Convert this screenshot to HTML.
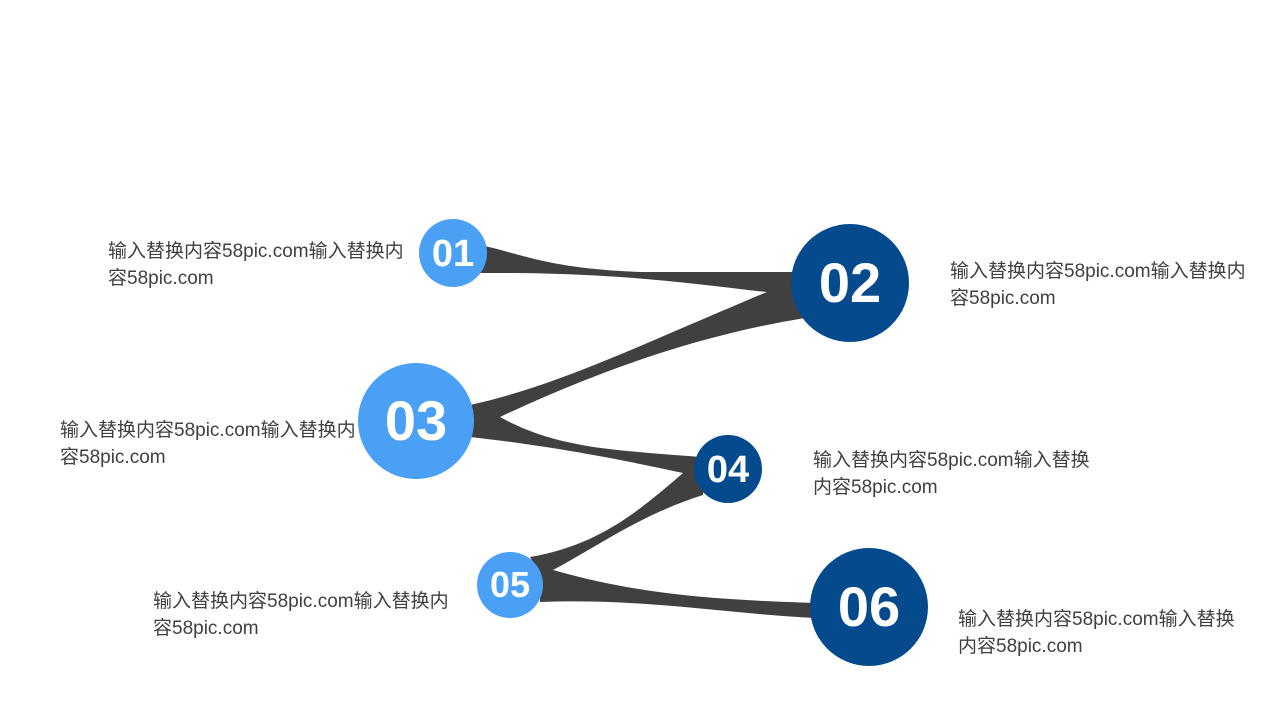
<!DOCTYPE html>
<html><head><meta charset="utf-8"><style>
body{margin:0;width:1280px;height:720px;background:#fff;overflow:hidden;position:relative;font-family:"Liberation Sans","Noto Sans CJK SC",sans-serif}
.t{position:absolute;font-size:19px;line-height:27px;color:#404040;white-space:nowrap}
</style></head><body>
<svg width="1280" height="720" style="position:absolute;left:0;top:0">
<g fill="#404040">
<path d="M470,243 C520,252 540,268 640,272 L800,272 L800,292 L767,292 C700,285 620,272 487,273 L470,273 Z"/>
<path d="M767,292 L800,290 L805,318 C700,335 600,370 500,417 L470,430 L470,405 C560,385 640,345 767,292 Z"/>
<path d="M500,417 C560,450 620,450 700,457 L700,478 L683,473 C600,455 540,445 470,437 L470,415 Z"/>
<path d="M683,473 L705,470 L703,495 C640,515 600,545 553,570 L540,575 L530,557 C600,545 640,510 683,473 Z"/>
<path d="M553,570 C640,595 720,600 815,603 L815,618 C720,613 640,598 540,602 L540,572 Z"/>
</g>
<g font-family="Liberation Sans Narrow,Liberation Sans,sans-serif" font-weight="bold" fill="#fff" text-anchor="middle">
<circle cx="453" cy="253" r="34" fill="#4aa0f5"/><text x="453" y="266" font-size="38">01</text>
<circle cx="850" cy="283" r="59" fill="#064a8e"/><text x="850" y="302" font-size="56">02</text>
<circle cx="416" cy="421" r="58" fill="#4aa0f5"/><text x="416" y="440" font-size="56">03</text>
<circle cx="728" cy="469" r="34" fill="#064a8e"/><text x="728" y="482" font-size="38">04</text>
<circle cx="510" cy="585" r="33" fill="#4aa0f5"/><text x="510" y="597" font-size="36">05</text>
<circle cx="869" cy="607" r="59" fill="#064a8e"/><text x="869" y="626" font-size="56">06</text>
</g>
</svg>
<div class="t" style="left:108px;top:238px">输入替换内容58pic.com输入替换内<br>容58pic.com</div>
<div class="t" style="left:950px;top:258px">输入替换内容58pic.com输入替换内<br>容58pic.com</div>
<div class="t" style="left:60px;top:417px">输入替换内容58pic.com输入替换内<br>容58pic.com</div>
<div class="t" style="left:813px;top:447px">输入替换内容58pic.com输入替换<br>内容58pic.com</div>
<div class="t" style="left:153px;top:588px">输入替换内容58pic.com输入替换内<br>容58pic.com</div>
<div class="t" style="left:958px;top:606px">输入替换内容58pic.com输入替换<br>内容58pic.com</div>
</body></html>
